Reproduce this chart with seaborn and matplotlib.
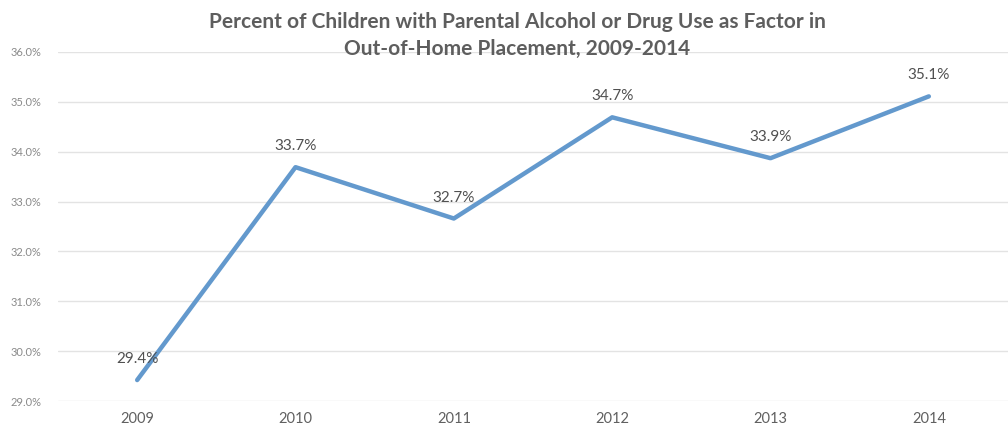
import matplotlib
matplotlib.use("Agg")
import matplotlib.pyplot as plt
import seaborn as sns
import pandas as pd
from matplotlib.ticker import FuncFormatter

# data
years = ["2009", "2010", "2011", "2012", "2013", "2014"]
percent = [29.42, 33.69, 32.66, 34.69, 33.87, 35.11]

df = pd.DataFrame({"year": years, "percent": percent})

sns.set_theme(style="white")
plt.rcParams["font.family"] = ["Lato", "DejaVu Sans"]

fig = plt.figure(figsize=(10.08, 4.32), dpi=100)
ax = fig.add_axes([58 / 1008, 1 - 401 / 432, 1 - 58 / 1008, (401 - 52) / 432])

sns.lineplot(data=df, x="year", y="percent", ax=ax, color="#6399cd",
             linewidth=3.2, sort=False)

ax.set_xlim(-0.5, len(years) - 0.5)
ax.set_ylim(29, 36)
ax.set_yticks(range(29, 37))
ax.yaxis.set_major_formatter(FuncFormatter(lambda v, p: f"{v:.1f}%"))
ax.grid(axis="y", color="#e3e3e3", linewidth=1)
ax.set_axisbelow(True)
for s in ax.spines.values():
    s.set_visible(False)
ax.tick_params(axis="y", labelsize=8, colors="#8a8a8a", length=0, pad=12)
ax.tick_params(axis="x", labelsize=10.5, colors="#606060", length=0, pad=8)
ax.set_xlabel("")
ax.set_ylabel("")

# data labels above each point
for i, v in enumerate(percent):
    ax.annotate(f"{v:.1f}%", (i, v), xytext=(0, 10), textcoords="offset points",
                ha="center", va="bottom", fontsize=11, color="#505050")

fig.text(0.513, 0.972, "Percent of Children with Parental Alcohol or Drug Use as Factor in\nOut-of-Home Placement, 2009-2014",
         ha="center", va="top", fontsize=15, fontweight="bold", color="#5e5e5e",
         linespacing=1.4)

fig.savefig("out.png", dpi=100)
